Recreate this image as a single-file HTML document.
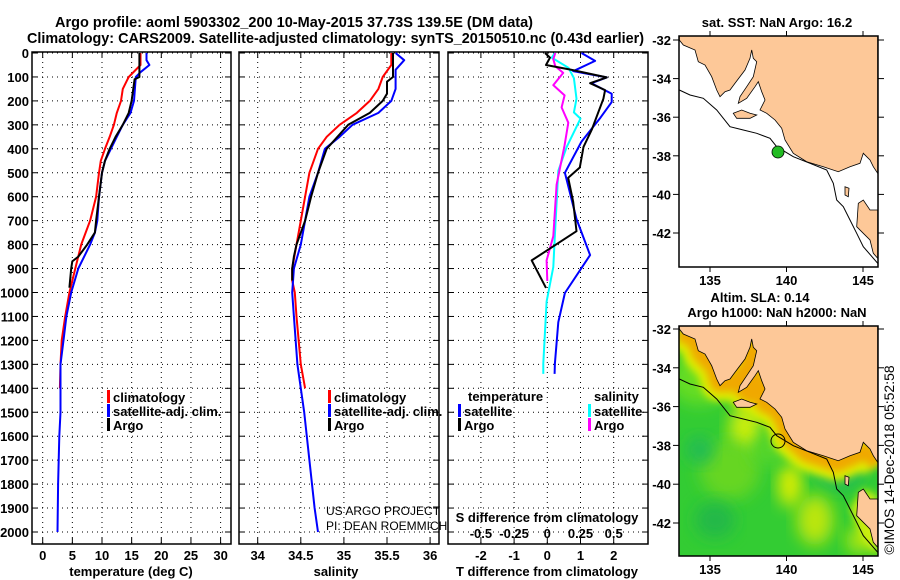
<!DOCTYPE html>
<html><head><meta charset="utf-8">
<style>
html,body{margin:0;padding:0;background:#fff;}
svg{display:block;font-family:"Liberation Sans",Arial,sans-serif;}
.t{font-weight:bold;font-size:13px;fill:#000;}
</style></head>
<body>
<svg id="fig" width="900" height="580" viewBox="0 0 900 580" xmlns="http://www.w3.org/2000/svg">
<defs>
<filter id="blur4" x="-20%" y="-20%" width="140%" height="140%"><feGaussianBlur stdDeviation="4"/></filter>
<filter id="blur8" x="-30%" y="-30%" width="160%" height="160%"><feGaussianBlur stdDeviation="8"/></filter>
<clipPath id="map2clip"><rect x="679" y="326" width="199" height="230"/></clipPath>
<clipPath id="map1clip"><rect x="679" y="36" width="199" height="231"/></clipPath>
</defs>
<text x="55" y="27" font-weight="bold" font-size="15" textLength="478" lengthAdjust="spacingAndGlyphs">Argo profile: aoml 5903302_200 10-May-2015 37.73S 139.5E (DM data)</text>
<text x="27" y="43" font-weight="bold" font-size="15" textLength="617" lengthAdjust="spacingAndGlyphs">Climatology: CARS2009. Satellite-adjusted climatology: synTS_20150510.nc (0.43d earlier)</text>
<g id="plots"></g>
<g id="maps"></g>
<text transform="translate(894,460) rotate(-90)" text-anchor="middle" font-size="14">©IMOS 14-Dec-2018 05:52:58</text>
</svg>
<script>
// ---------- data ----------
const depthTicks = [0,100,200,300,400,500,600,700,800,900,1000,1100,1200,1300,1400,1500,1600,1700,1800,1900,2000];
const tempTicks = [0,5,10,15,20,25,30];
const salTicks = [34,34.5,35,35.5,36];
const tdiffTicks = [-2,-1,0,1,2];
const sdiffTicks = [-0.5,-0.25,0,0.25,0.5];
const sdiffLabels = ["-0.5","-0.25","0","0.25","0.5"];

const tClimDepth = [0,50,75,100,150,200,250,300,350,400,450,500,600,700,800,900,1000,1100,1200,1300,1400];
const tClimVal   = [16.5,16.5,15.5,14.5,13.5,13.2,12.5,12,11.3,10.5,9.8,9.5,9,8,6.5,5.5,4.5,3.8,3.2,3,2.9];
const tSatDepth = [0,30,50,80,100,200,250,300,350,400,450,500,600,700,750,800,900,1000,1100,1200,1300,1500,1600,1800,2000];
const tSatVal   = [17.5,17.5,18,16.5,15.7,15.4,14.8,13.5,12.5,11.5,10.5,10,9.5,9.2,8.8,8,6,4.8,4,3.5,3,3,2.8,2.6,2.5];
const tArgoDepth = [0,50,100,110,200,250,300,350,400,450,500,600,700,750,800,850,870,900,980];
const tArgoVal   = [16.3,16.3,16.3,15.5,15,14.5,13.5,12.3,11.3,10.5,10,9.5,9,8.8,7.5,6,5,4.8,4.5];

const sClimDepth = [0,50,100,150,200,250,300,350,400,450,500,600,800,900,950,1000,1100,1300,1400];
const sClimVal   = [35.55,35.55,35.45,35.4,35.3,35.15,34.95,34.8,34.7,34.65,34.6,34.55,34.45,34.4,34.4,34.43,34.45,34.5,34.55];
const sSatDepth = [0,30,70,150,200,250,300,350,400,500,600,800,900,1000,1100,1300,1500,1700,1900,2000];
const sSatVal   = [35.6,35.7,35.6,35.6,35.55,35.4,35.1,34.95,34.78,34.7,34.6,34.5,34.42,34.4,34.42,34.46,34.54,34.6,34.66,34.7];
const sArgoDepth = [0,100,120,170,200,250,300,400,500,600,700,800,850,900,950];
const sArgoVal   = [35.57,35.57,35.5,35.5,35.45,35.3,35.05,34.8,34.7,34.62,34.55,34.45,34.42,34.4,34.4];

const dTSatDepth = [0,33,76,102,126,170,205,270,370,500,693,844,1002,1124,1296,1340];
const dTSatVal   = [1.03,1.44,0.78,1.79,1.33,1.94,1.94,1.6,1.03,0.53,0.88,1.29,0.53,0.33,0.23,0.22];
const dTArgoDepth = [0,19,50,69,102,126,155,191,320,392,478,521,622,744,866,981];
const dTArgoVal   = [-0.07,0.08,-0.04,0.68,1.79,1.29,1.74,1.69,1.34,1.09,0.98,0.63,0.78,0.88,-0.47,-0.04];
const dSSatDepth = [0,19,62,105,191,248,274,392,492,751,894,1038,1296,1340];
const dSSatVal   = [0.058,0.033,0.16,0.2,0.22,0.2,0.25,0.146,0.083,0.058,0.045,-0.005,-0.03,-0.03];
const dSArgoDepth = [0,26,55,83,134,177,227,291,385,550,765,866,952];
const dSArgoVal   = [0.06,0.045,0.06,0.12,0.045,0.13,0.108,0.158,0.13,0.07,0.045,-0.005,0];

// ---------- helpers ----------
const NS = "http://www.w3.org/2000/svg";
const plots = document.getElementById('plots');
function mk(tag, attrs, parent){ const e=document.createElementNS(NS,tag); for(const k in attrs) e.setAttribute(k,attrs[k]); (parent||plots).appendChild(e); return e; }
const TOP=52, BOT=544;
const yD = d => 53 + d*0.2395;

function panel(name, x0, x1, xScale, xt, showDepth){
  const g = mk('g',{});
  
  
  depthTicks.forEach(d=>{
    const y=yD(d);
    const l=mk('line',{x1:x0,x2:x1,y1:y,y2:y,stroke:'#000','stroke-width':1,'stroke-dasharray':'1,4'},g);
    
    
    mk('line',{x1:x0,x2:x0+6,y1:y,y2:y,stroke:'#000'},g);
    mk('line',{x1:x1-6,x2:x1,y1:y,y2:y,stroke:'#000'},g);
    if(showDepth){
      const t=mk('text',{x:29,y:y+5,'text-anchor':'end',class:'t'},g);
      t.textContent=d;
      
      
    }
  });
  xt.forEach((v,i)=>{
    const x=xScale(v);
    const l=mk('line',{x1:x,x2:x,y1:TOP,y2:BOT,stroke:'#000','stroke-width':1,'stroke-dasharray':'1,4'},g);
    
    
    mk('line',{x1:x,x2:x,y1:BOT,y2:BOT-6,stroke:'#000'},g);
    mk('line',{x1:x,x2:x,y1:TOP,y2:TOP+6,stroke:'#000'},g);
    const t=mk('text',{x:x,y:560,'text-anchor':'middle',class:'t'},g);
    t.textContent=v;
    
    
  });
  const r=mk('rect',{x:x0,y:TOP,width:x1-x0,height:BOT-TOP,fill:'none',stroke:'#000','stroke-width':1.5},g);
  
  
  return g;
}
function series(g, name, depths, vals, xScale, color, w){
  const pts = depths.map((d,i)=> xScale(vals[i]).toFixed(1)+','+yD(d).toFixed(1)).join(' ');
  const p=mk('polyline',{points:pts,fill:'none',stroke:color,'stroke-width':w||2,'stroke-linejoin':'round'},g);
  
  
}
function legend(g, x, y, color, label, name){
  mk('rect',{x:x,y:y-7,width:3,height:13,fill:color},g);
  const t=mk('text',{x:x+6,y:y+5,class:'t'},g);
  t.textContent=label;
  
  
}
function label(x,y,txt,name,anchor,extra){
  const t=mk('text',Object.assign({x:x,y:y,'text-anchor':anchor||'middle',class:'t'},extra||{}));
  t.textContent=txt;
  
  
  return t;
}

// ---------- panel 1: temperature ----------
const xT = v => 42.7 + v*5.93;
const g1 = panel('temperature-panel', 32, 231, xT, tempTicks, true);
series(g1,'temp-climatology-line',tClimDepth,tClimVal,xT,'#ff0000');
series(g1,'temp-satellite-line',tSatDepth,tSatVal,xT,'#0000ff');
series(g1,'temp-argo-line',tArgoDepth,tArgoVal,xT,'#000000');
legend(g1,107,397,'#ff0000','climatology','legend-climatology');
legend(g1,107,411,'#0000ff','satellite-adj. clim.','legend-satellite');
legend(g1,107,425,'#000','Argo','legend-argo');
label(131,576,'temperature (deg C)','x-axis-title-temperature');

// ---------- panel 2: salinity ----------
const xS = v => 257.7 + (v-34)*86.2;
const g2 = panel('salinity-panel', 239, 439, xS, salTicks, false);
series(g2,'sal-climatology-line',sClimDepth,sClimVal,xS,'#ff0000');
series(g2,'sal-satellite-line',sSatDepth,sSatVal,xS,'#0000ff');
series(g2,'sal-argo-line',sArgoDepth,sArgoVal,xS,'#000000');
legend(g2,328,397,'#ff0000','climatology','legend-climatology');
legend(g2,328,411,'#0000ff','satellite-adj. clim.','legend-satellite');
legend(g2,328,425,'#000','Argo','legend-argo');
label(336,576,'salinity','x-axis-title-salinity');
label(326,515,'US ARGO PROJECT','credit-project','start',{style:'font-weight:normal;font-size:12px'});
label(326,530,'PI: DEAN ROEMMICH','credit-pi','start',{style:'font-weight:normal;font-size:12px'});

// ---------- panel 3: differences ----------
const xDT = v => 547.3 + v*33.2;
const xDS = v => 547.3 + v*132.8;
const g3 = panel('difference-panel', 448, 648, xDT, tdiffTicks, false);
series(g3,'sal-diff-satellite-line',dSSatDepth,dSSatVal,xDS,'#00ffff');
series(g3,'sal-diff-argo-line',dSArgoDepth,dSArgoVal,xDS,'#ff00ff');
series(g3,'temp-diff-satellite-line',dTSatDepth,dTSatVal,xDT,'#0000ff');
series(g3,'temp-diff-argo-line',dTArgoDepth,dTArgoVal,xDT,'#000000');
label(468,401,'temperature','legend-temperature-heading','start');
legend(g3,458,411,'#0000ff','satellite','legend-temp-satellite');
legend(g3,458,425,'#000','Argo','legend-temp-argo');
label(594,401,'salinity','legend-salinity-heading','start');
legend(g3,588,411,'#00ffff','satellite','legend-sal-satellite');
legend(g3,588,425,'#ff00ff','Argo','legend-sal-argo');
label(547,522,'S difference from climatology','s-axis-title');
sdiffTicks.forEach((v,i)=>{ label(xDS(v),538,sdiffLabels[i],'s-tick-label'); });
label(547,576,'T difference from climatology','x-axis-title-tdiff');

// ---------- maps ----------
const maps = document.getElementById('maps');
function mm(tag, attrs, parent){ const e=document.createElementNS(NS,tag); for(const k in attrs) e.setAttribute(k,attrs[k]); (parent||maps).appendChild(e); return e; }
function P(arr, dy){ const o=[]; for(let i=0;i<arr.length;i+=2){ o.push((650+arr[i]/3).toFixed(1)+','+(arr[i+1]/3+dy).toFixed(1)); } return o.join(' '); }
const mainland=[88,120,100,135,135,150,145,185,165,195,185,230,200,270,210,290,225,275,240,270,255,250,285,210,300,175,305,150,310,175,320,185,310,230,290,260,270,290,265,310,290,295,315,260,325,245,335,275,345,300,330,330,350,340,375,360,395,385,405,420,430,460,470,485,520,500,565,515,600,500,630,490,640,460,660,480,670,500,683,520,683,105,88,105];
const kangaroo=[250,340,275,330,300,340,320,345,300,355,260,355];
const tasmania=[625,610,640,600,660,630,683,630,683,775,670,760,660,720,640,700,620,680];
const kingIsland=[585,560,597,565,595,590,585,585];
const contour=[88,270,120,285,160,295,200,330,240,380,280,390,320,400,360,415,380,440,430,470,480,490,530,510,550,550,560,600,580,620,600,660,620,700,640,740,683,790];
const coastBand=[88,130,135,155,150,195,190,235,205,285,240,285,290,240,305,180,320,200,300,255,275,300,300,320,330,280,345,310,340,345,380,365,400,400,415,445,470,495,560,525,620,500,650,485,683,525];

function drawMap(dy, name, heat){
  const g=mm('g',{});
  
  
  const inner=mm('g',{'clip-path': dy? 'url(#map2clip)':'url(#map1clip)'},g);
  if(heat){
    mm('rect',{x:679,y:326,width:199,height:230,fill:'#33cc33'},inner);
    const blobs=[[700,380,30,25,'#66dd22'],[745,430,16,26,'#ccee11'],[790,485,12,22,'#ddee00'],[730,470,30,30,'#66d622'],[840,470,25,20,'#22bb55'],[770,450,20,15,'#55d52a'],[815,520,18,25,'#bbe611'],[715,520,20,18,'#22b848'],[850,430,20,20,'#66dd22'],[700,450,14,14,'#22bb55'],[860,540,14,14,'#aae611']];
    blobs.forEach(b=>mm('ellipse',{cx:b[0],cy:b[1],rx:b[2],ry:b[3],fill:b[4],filter:'url(#blur8)'},inner));
    mm('polyline',{points:P(coastBand,dy),fill:'none',stroke:'#ddee00','stroke-width':34,'stroke-linejoin':'round',filter:'url(#blur4)'},inner);
    mm('polyline',{points:P(coastBand,dy),fill:'none',stroke:'#f0a800','stroke-width':16,'stroke-linejoin':'round',filter:'url(#blur4)'},inner);
    mm('polygon',{points:P([640,600,683,620,683,800,640,760,600,660],dy),fill:'#ccee11',filter:'url(#blur4)'},inner);
  }
  [mainland,kangaroo,tasmania,kingIsland].forEach(a=>{
    const p=mm('polygon',{points:P(a,dy),fill:'#fdc898',stroke:'#000','stroke-width':0.8},inner);
    
    
  });
  const c=mm('polyline',{points:P(contour,dy),fill:'none',stroke:'#000','stroke-width':1},inner);
  
  
  const top=dy?326:36, bot=dy?556:267;
  mm('rect',{x:679,y:top,width:199,height:bot-top,fill:'none',stroke:'#000','stroke-width':1.5},g);
  [-32,-34,-36,-38,-40,-42].forEach(lat=>{
    const y=(dy?329:40)+(-32-lat)*(dy?19.4:19.3);
    mm('line',{x1:673,x2:679,y1:y,y2:y,stroke:'#000'},g);
    mm('line',{x1:878,x2:884,y1:y,y2:y,stroke:'#000'},g);
    const t=mm('text',{x:671,y:y+5,'text-anchor':'end',class:'t'},g);
    t.textContent=lat;
    
    
  });
  [135,140,145].forEach(lon=>{
    const x=710+(lon-135)*15.3;
    mm('line',{x1:x,x2:x,y1:bot,y2:bot+5,stroke:'#000'},g);
    mm('line',{x1:x,x2:x,y1:top-5,y2:top,stroke:'#000'},g);
    const t=mm('text',{x:x,y:bot+18,'text-anchor':'middle',class:'t'},g);
    t.textContent=lon;
    
    
  });
  return g;
}
drawMap(0,'sst-map',false);
const dot=mm('circle',{cx:778,cy:152,r:6,fill:'#22bb22',stroke:'#000','stroke-width':0.8});


drawMap(289,'altimetry-map',true);
const ring=mm('circle',{cx:778,cy:441,r:7,fill:'none',stroke:'#000','stroke-width':1});


function mt(x,y,txt,name){ const t=mm('text',{x:x,y:y,'text-anchor':'middle',class:'t'}); t.textContent=txt;   }
mt(777,27,'sat. SST: NaN Argo: 16.2','sst-map-title');
mt(760,302,'Altim. SLA: 0.14','altimetry-map-title');
mt(777,317,'Argo h1000: NaN h2000: NaN','altimetry-map-subtitle');
</script>
</body></html>
